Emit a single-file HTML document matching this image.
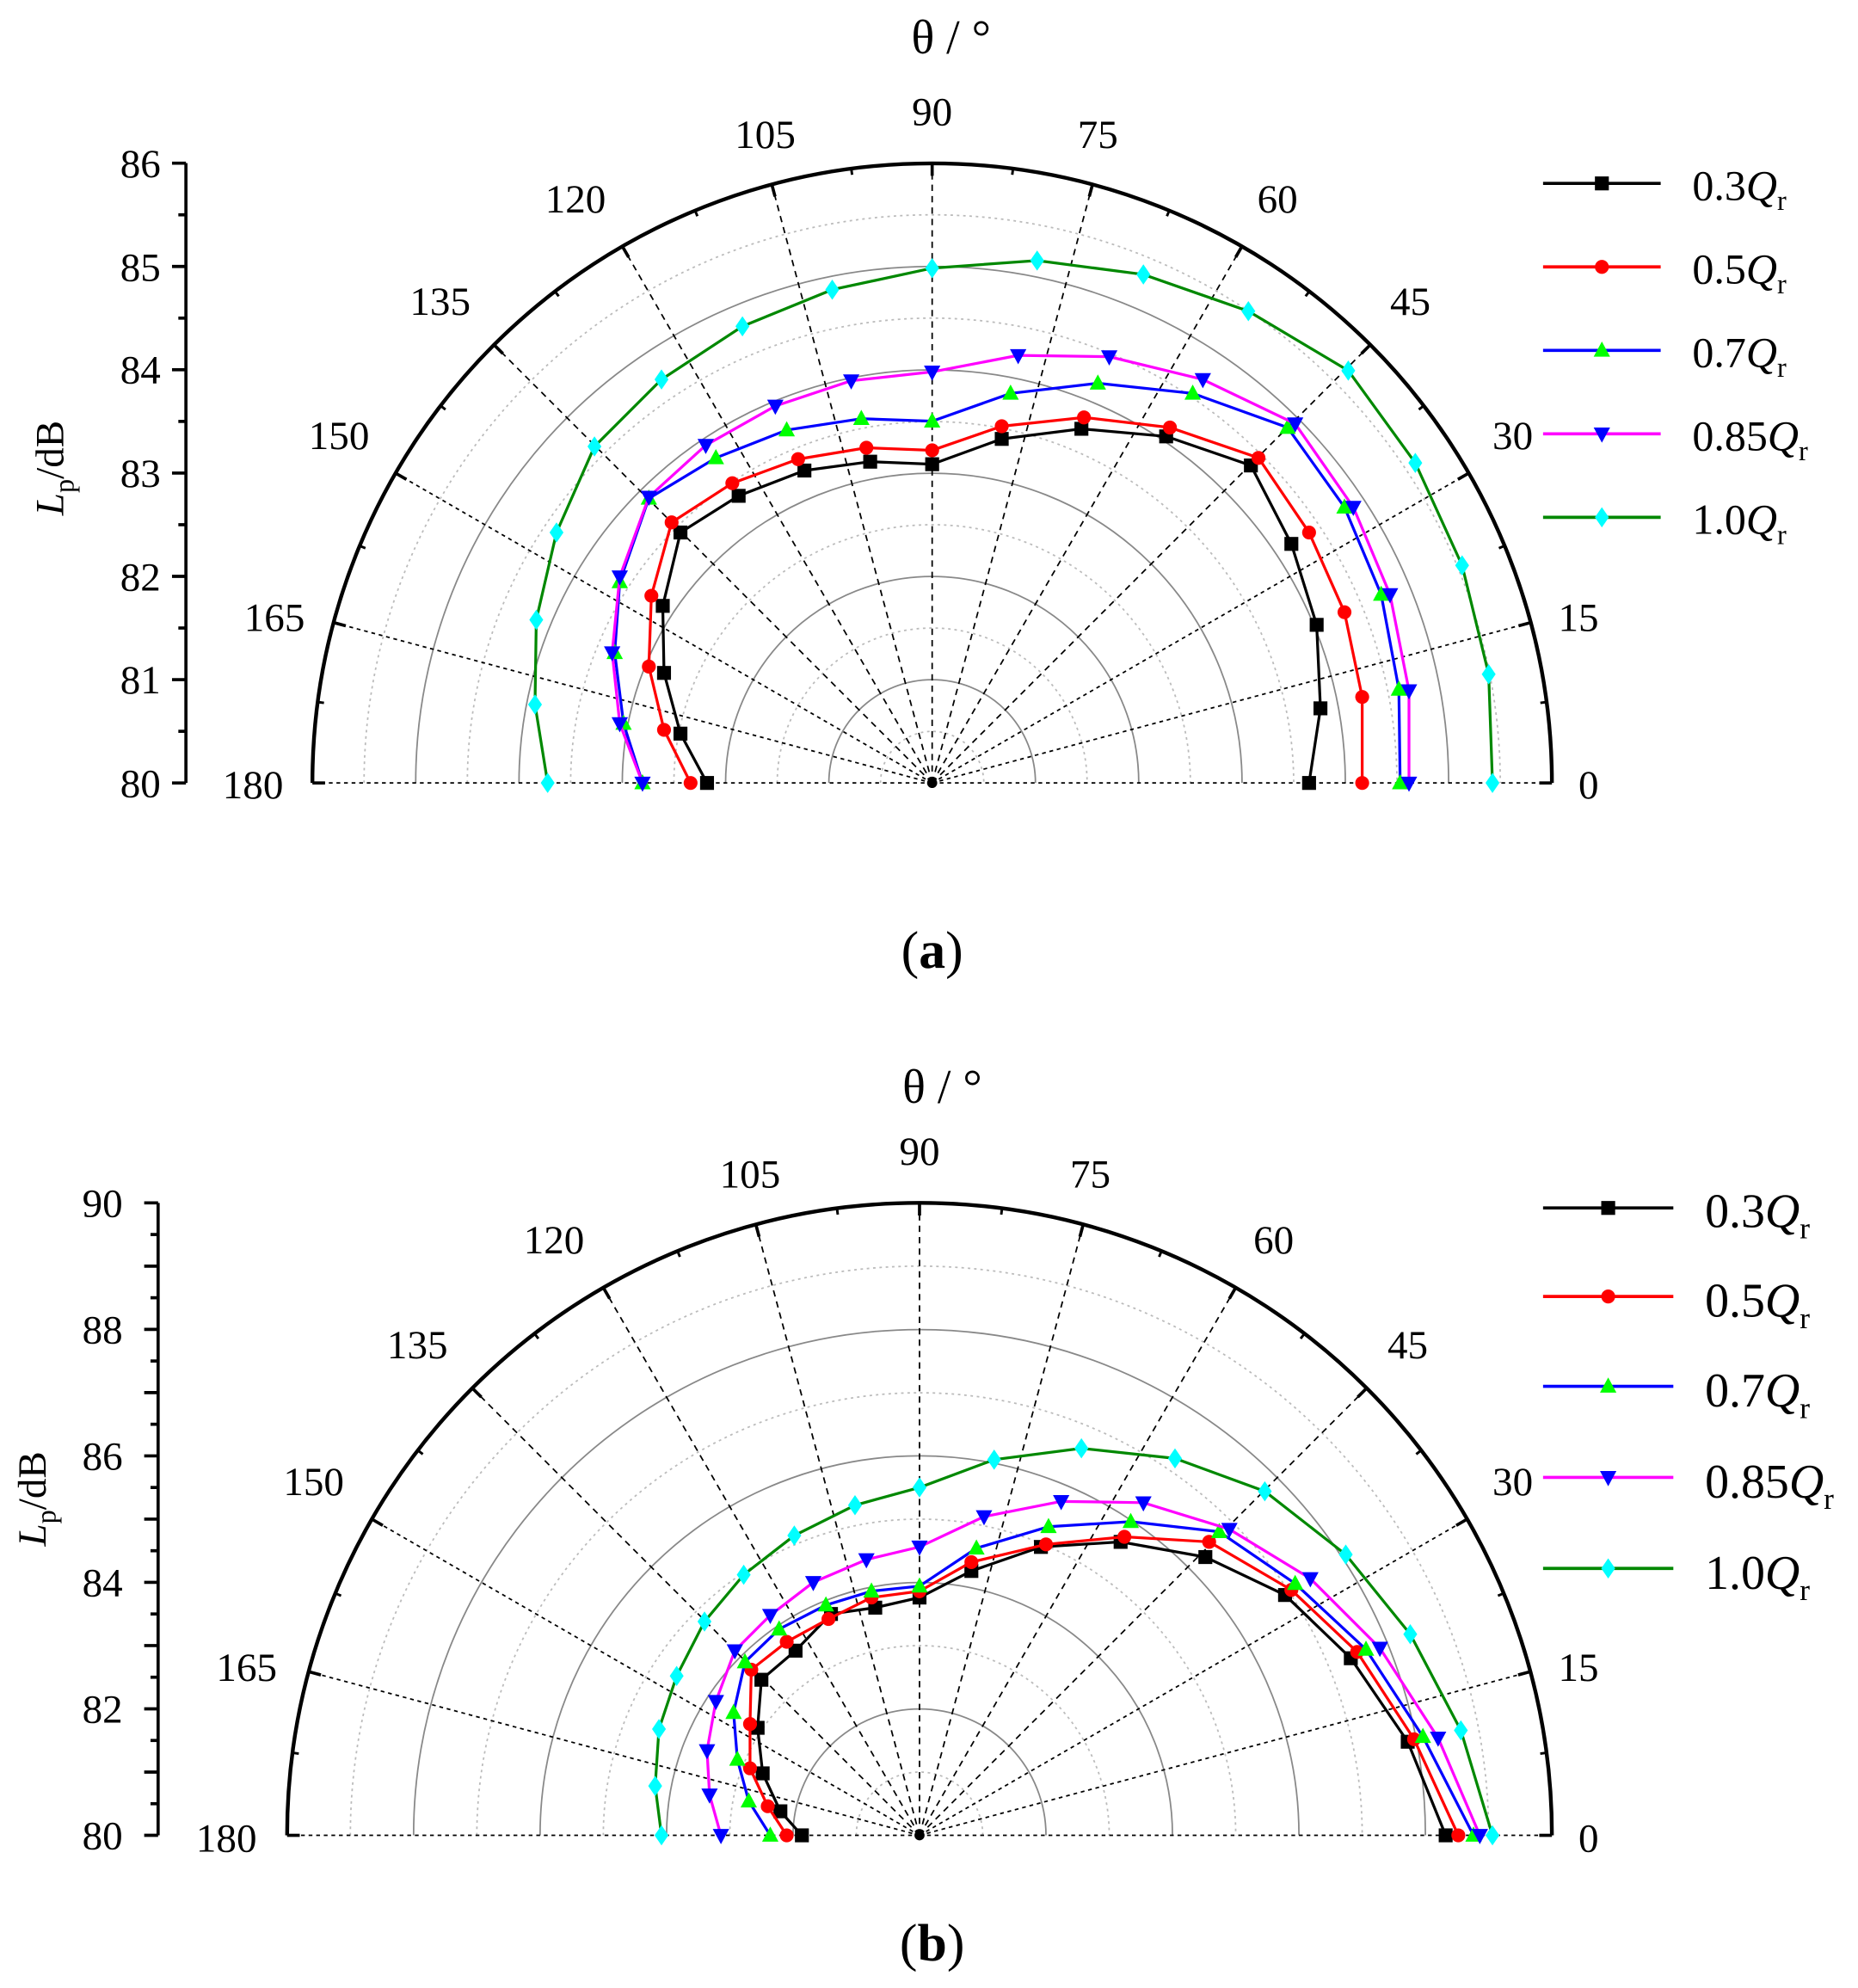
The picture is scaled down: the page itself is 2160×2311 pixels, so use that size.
<!DOCTYPE html>
<html><head><meta charset="utf-8"><style>
html,body{margin:0;padding:0;background:#fff}
svg{display:block}
text{font-family:"Liberation Serif",serif;fill:#000}
</style></head><body>
<svg id="s" width="2160" height="2311" viewBox="0 0 1469 1571.7" xmlns="http://www.w3.org/2000/svg">
<g id="g"></g>
<!-- panel a text -->
<g font-size="32" text-anchor="middle">
<text x="752" y="42" font-size="38">θ / °</text>
<text x="737" y="99">90</text><text x="868" y="117">75</text><text x="605" y="117">105</text>
<text x="1010" y="168">60</text><text x="455" y="168">120</text>
<text x="1115" y="249">45</text><text x="348" y="249">135</text>
<text x="1196" y="355">30</text><text x="268" y="355">150</text>
<text x="1248" y="499">15</text><text x="217" y="499">165</text>
<text x="1256" y="631">0</text><text x="200" y="631">180</text>
</g>
<g font-size="32" text-anchor="end">
<text x="127" y="140">86</text><text x="127" y="222">85</text><text x="127" y="303">84</text>
<text x="127" y="385">83</text><text x="127" y="467">82</text><text x="127" y="548">81</text><text x="127" y="630">80</text>
</g>
<text transform="translate(50,370) rotate(-90)" font-size="32" text-anchor="middle"><tspan font-style="italic">L</tspan><tspan font-size="22" dy="8">p</tspan><tspan dy="-8">/dB</tspan></text>
<g font-size="34">
<text x="1338" y="158">0.3<tspan font-style="italic">Q</tspan><tspan font-size="22" dy="8">r</tspan></text>
<text x="1338" y="224">0.5<tspan font-style="italic">Q</tspan><tspan font-size="22" dy="8">r</tspan></text>
<text x="1338" y="290">0.7<tspan font-style="italic">Q</tspan><tspan font-size="22" dy="8">r</tspan></text>
<text x="1338" y="356">0.85<tspan font-style="italic">Q</tspan><tspan font-size="22" dy="8">r</tspan></text>
<text x="1338" y="422">1.0<tspan font-style="italic">Q</tspan><tspan font-size="22" dy="8">r</tspan></text>
</g>
<text x="737" y="765" font-size="42" text-anchor="middle">(<tspan font-weight="bold">a</tspan>)</text>
<!-- panel b text -->
<g font-size="32" text-anchor="middle">
<text x="745" y="872" font-size="38">θ / °</text>
<text x="727" y="921">90</text><text x="862" y="939">75</text><text x="593" y="939">105</text>
<text x="1007" y="991">60</text><text x="438" y="991">120</text>
<text x="1113" y="1074">45</text><text x="330" y="1074">135</text>
<text x="1196" y="1182">30</text><text x="248" y="1182">150</text>
<text x="1248" y="1329">15</text><text x="195" y="1329">165</text>
<text x="1256" y="1464">0</text><text x="179" y="1464">180</text>
</g>
<g font-size="32" text-anchor="end">
<text x="97" y="962">90</text><text x="97" y="1062">88</text><text x="97" y="1162">86</text>
<text x="97" y="1262">84</text><text x="97" y="1362">82</text><text x="97" y="1462">80</text>
</g>
<text transform="translate(36,1185) rotate(-90)" font-size="32" text-anchor="middle"><tspan font-style="italic">L</tspan><tspan font-size="22" dy="8">p</tspan><tspan dy="-8">/dB</tspan></text>
<g font-size="38">
<text x="1348" y="970">0.3<tspan font-style="italic">Q</tspan><tspan font-size="24" dy="9">r</tspan></text>
<text x="1348" y="1041">0.5<tspan font-style="italic">Q</tspan><tspan font-size="24" dy="9">r</tspan></text>
<text x="1348" y="1112">0.7<tspan font-style="italic">Q</tspan><tspan font-size="24" dy="9">r</tspan></text>
<text x="1348" y="1184">0.85<tspan font-style="italic">Q</tspan><tspan font-size="24" dy="9">r</tspan></text>
<text x="1348" y="1256">1.0<tspan font-style="italic">Q</tspan><tspan font-size="24" dy="9">r</tspan></text>
</g>
<text x="737" y="1550" font-size="42" text-anchor="middle">(<tspan font-weight="bold">b</tspan>)</text>
</svg>
<script>
var g=document.getElementById('g'),NS='http://www.w3.org/2000/svg',H='';
function P(cx,cy,R,nSolid,nDot,yAx,tickTop,tickStep,nT){
 // circles
 for(var i=1;i<nSolid;i++){var r=R*i/nSolid;H+='<path d="M'+(cx-r)+','+cy+' A'+r+','+r+' 0 0 1 '+(cx+r)+','+cy+'" fill="none" stroke="#888" stroke-width="1.2"/>';}
 for(var i=0;i<nSolid;i++){var r=R*(i+0.5)/nSolid;H+='<path d="M'+(cx-r)+','+cy+' A'+r+','+r+' 0 0 1 '+(cx+r)+','+cy+'" fill="none" stroke="#bbb" stroke-width="1.2" stroke-dasharray="2,3"/>';}
 for(var a=0;a<=180;a+=15){var t=a*Math.PI/180;var x=cx+R*Math.cos(t),y=cy-R*Math.sin(t);
  H+='<line x1="'+cx+'" y1="'+cy+'" x2="'+x+'" y2="'+y+'" stroke="#000" stroke-width="1.2" stroke-dasharray="'+((a==0||a==180||a==15||a==165||a==30||a==150)?'3,3':'5,4')+'"/>';
  var x2=cx+(R-10)*Math.cos(t),y2=cy-(R-10)*Math.sin(t);H+='<line x1="'+x+'" y1="'+y+'" x2="'+x2+'" y2="'+y2+'" stroke="#000" stroke-width="2.5"/>';}
 for(var a=7.5;a<180;a+=15){var t=a*Math.PI/180;H+='<line x1="'+(cx+R*Math.cos(t))+'" y1="'+(cy-R*Math.sin(t))+'" x2="'+(cx+(R-5)*Math.cos(t))+'" y2="'+(cy-(R-5)*Math.sin(t))+'" stroke="#000" stroke-width="2"/>';}
 H+='<path d="M'+(cx-R)+','+cy+' A'+R+','+R+' 0 0 1 '+(cx+R)+','+cy+'" fill="none" stroke="#000" stroke-width="3"/>';
 H+='<circle cx="'+cx+'" cy="'+cy+'" r="4"/>';
 H+='<line x1="'+yAx+'" y1="'+(cy-R)+'" x2="'+yAx+'" y2="'+cy+'" stroke="#000" stroke-width="2.5"/>';
 for(var i=0;i<=nT;i++){var y=cy-R*i/nT;H+='<line x1="'+(yAx-(i%2?6:11))+'" y1="'+y+'" x2="'+yAx+'" y2="'+y+'" stroke="#000" stroke-width="2.5"/>';}
}
P(737,619,490,6,6,147,0,0,12);
P(727,1451,500,5,5,125,0,0,20);
function mk(type,x,y,c){var s=5.5;
 if(type==0)return '<rect x="'+(x-s)+'" y="'+(y-s)+'" width="'+2*s+'" height="'+2*s+'" fill="'+c+'"/>';
 if(type==1)return '<circle cx="'+x+'" cy="'+y+'" r="'+s+'" fill="'+c+'"/>';
 if(type==2)return '<polygon points="'+x+','+(y-7)+' '+(x-6.5)+','+(y+5)+' '+(x+6.5)+','+(y+5)+'" fill="'+c+'"/>';
 if(type==3)return '<polygon points="'+x+','+(y+7)+' '+(x-6.5)+','+(y-5)+' '+(x+6.5)+','+(y-5)+'" fill="'+c+'"/>';
 return '<polygon points="'+x+','+(y-8)+' '+(x+5.5)+','+y+' '+x+','+(y+8)+' '+(x-5.5)+','+y+'" fill="'+c+'"/>';}
var cols=[['#000','#000'],['#f00','#f00'],['#00f','#0f0'],['#f0f','#00f'],['#080','#0ff']];
var A=[
[[1035,619],[1044,560],[1041,494],[1021,430],[989,368],[922,345],[855,339],[792,347],[737,367],[688,365],[636,372],[584,392],[538,421],[524,479],[525,532],[538,580],[559,619]],
[[1077,619],[1077,551],[1063,484],[1035,421],[995,362],[925,338],[857,330],[792,337],[737,356],[685,354],[631,363],[579,382],[531,413],[515,471],[513,527],[525,577],[546,619]],
[[1107,619],[1106,545],[1092,470],[1063,401],[1018,338],[943,311],[868,303],[799,311],[737,333],[681,331],[622,340],[566,362],[513,394],[490,460],[486,516],[493,572],[508,619]],
[[1114,619],[1114,546],[1099,470],[1070,401],[1024,335],[951,300],[877,282],[805,281],[737,294],[673,301],[613,321],[558,352],[513,393],[490,456],[484,516],[490,572],[508,619]],
[[1180,619],[1177,533],[1156,447],[1119,366],[1066,293],[987,246],[904,217],[820,206],[737,212],[658,229],[587,258],[523,300],[470,353],[440,421],[424,490],[423,557],[433,619]]];
var B=[
[[1143,1451],[1113,1377],[1068,1311],[1016,1261],[953,1231],[886,1219],[823,1223],[768,1242],[727,1263],[692,1271],[657,1276],[629,1305],[602,1328],[599,1366],[603,1402],[617,1432],[634,1451]],
[[1153,1451],[1118,1375],[1073,1306],[1021,1257],[956,1219],[889,1215],[827,1221],[768,1235],[727,1258],[689,1263],[655,1280],[622,1298],[594,1320],[593,1363],[593,1398],[607,1428],[622,1451]],
[[1165,1451],[1125,1373],[1080,1304],[1024,1252],[964,1211],[894,1203],[829,1207],[772,1224],[727,1254],[689,1258],[653,1269],[616,1288],[589,1314],[580,1354],[583,1391],[592,1424],[609,1451]],
[[1170,1451],[1137,1374],[1091,1303],[1036,1248],[972,1209],[904,1188],[839,1187],[778,1199],[727,1223],[685,1233],[643,1251],[609,1277],[581,1305],[566,1345],[559,1384],[561,1419],[570,1451]],
[[1180,1451],[1155,1368],[1115,1292],[1064,1229],[1000,1179],[929,1153],[855,1145],[786,1154],[727,1176],[676,1190],[628,1214],[588,1245],[557,1282],[535,1325],[521,1367],[518,1412],[523,1451]]];
function series(D,legY,lx1,lx2){
 for(var k=0;k<5;k++){var d=D[k];H+='<polyline points="'+d.map(function(p){return p.join(',')}).join(' ')+'" fill="none" stroke="'+cols[k][0]+'" stroke-width="2.2"/>';
  d.forEach(function(p){H+=mk(k,p[0],p[1],cols[k][1]);});
  H+='<line x1="'+lx1+'" y1="'+legY[k]+'" x2="'+lx2+'" y2="'+legY[k]+'" stroke="'+cols[k][0]+'" stroke-width="2.5"/>'+mk(k,(lx1+lx2)/2,legY[k],cols[k][1]);}
}
series(A,[145,211,277,343,409],1220,1313);
series(B,[955,1025,1096,1168,1240],1220,1323);
g.innerHTML=H;
</script>
</body></html>
